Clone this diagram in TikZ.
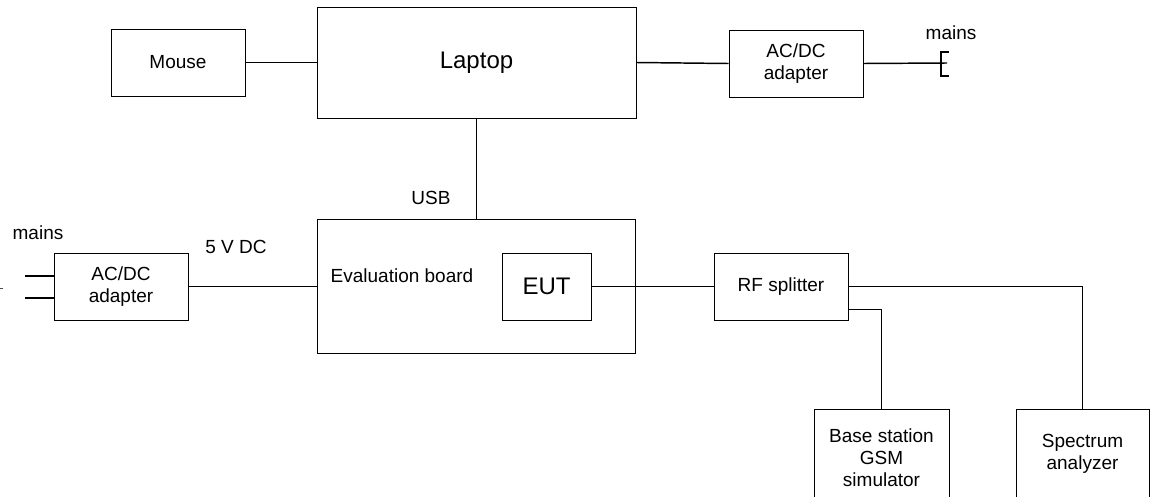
\documentclass[tikz,border=0pt]{standalone}
\usepackage{fontspec}
\setmainfont{Liberation Sans}
\begin{document}
\begin{tikzpicture}[x=0.75pt,y=-0.75pt,
  box/.style={draw=black,line width=0.75pt,inner sep=0pt,align=center,
    font=\fontsize{14.25}{16.5}\selectfont},
  lbl/.style={inner sep=0pt,font=\fontsize{14.25}{16.5}\selectfont},
  big/.style={font=\fontsize{18}{21}\selectfont},
  wire/.style={draw=black,line width=0.75pt},
  thick wire/.style={draw=black,line width=1.1pt}]
\useasboundingbox (0,0) rectangle (1151,496);
\clip (0,0) rectangle (1151,496);
\fill[white] (0,0) rectangle (1151,496);

% boxes
\node[box,minimum width=100.5pt,minimum height=50.25pt] (mouse) at (178,62.5) {Mouse};
\node[box,big,minimum width=239.25pt,minimum height=83.25pt] (laptop) at (476.5,62.5) {Laptop};
\node[box,minimum width=100.5pt,minimum height=50.25pt] (ac1) at (796,63.5) {AC/DC\\adapter};
\node[box,minimum width=238.5pt,minimum height=100.5pt] (eval) at (476,286) {};
\node[box,big,minimum width=66.75pt,minimum height=50.25pt] (eut) at (546.5,286.5) {EUT};
\node[box,minimum width=100.5pt,minimum height=50.25pt] (ac2) at (121,286.5) {AC/DC\\adapter};
\node[box,minimum width=100.5pt,minimum height=50.25pt] (sp) at (781,286.5) {RF splitter};
\node[box,minimum width=101.25pt,minimum height=73.5pt] (bs) at (881.5,458) {Base station\\GSM\\simulator};
\node[box,minimum width=99.75pt,minimum height=66.75pt] (sa) at (1082.5,453.5) {Spectrum\\analyzer};

% labels
\node[lbl] (evallbl) at (402,276) {Evaluation board};
\node[lbl] (usb) at (431,198) {USB};
\node[lbl] (dc) at (236,247) {5 V DC};
\node[lbl] (mainsL) at (38,233) {mains};
\node[lbl] (mainsR) at (951,33) {mains};

% connectors
\draw[wire] (mouse.east) -- (laptop.west);
\draw[thick wire] (laptop.east) -- (ac1.west);
\coordinate (plugR) at (947,63);
\draw[thick wire] (ac1.east) -- (plugR);
\draw[thick wire] (949,52) -- (941,52) -- (941,76) -- (949,76);
\draw[wire] (laptop.south) -- (laptop.south |- eval.north);
\draw[wire] (ac2.east) -- (ac2.east -| eval.west);
\draw[wire] (eut.east) -- (sp.west);
\draw[wire] (sp.east) -| (sa.north);
\draw[wire] ([yshift=-16.9pt]sp.east) -| (bs.north);

% left mains plug
\coordinate (pl1) at (25,276);
\coordinate (pl2) at (25,298);
\draw[thick wire] (pl1) -- (pl1 -| ac2.west);
\draw[thick wire] (pl2) -- (pl2 -| ac2.west);
\draw[line width=0.6pt,black!70] (0,288) -- (3,288);
\end{tikzpicture}
\end{document}
